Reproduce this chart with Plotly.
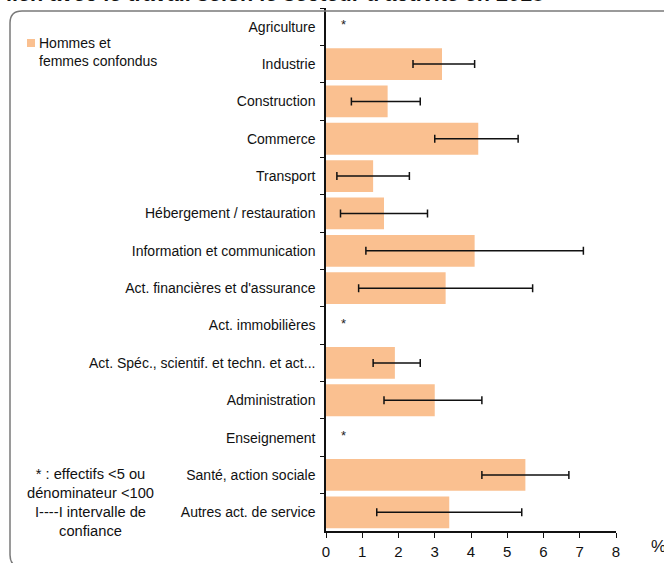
import plotly.graph_objects as go

categories = [
    "Agriculture", "Industrie", "Construction", "Commerce", "Transport",
    "Hébergement / restauration", "Information et communication",
    "Act. financières et d'assurance", "Act. immobilières",
    "Act. Spéc., scientif. et techn. et act...", "Administration",
    "Enseignement", "Santé, action sociale", "Autres act. de service",
]
values = [None, 3.2, 1.7, 4.2, 1.3, 1.6, 4.1, 3.3, None, 1.9, 3.0, None, 5.5, 3.4]
ci_low = [None, 2.4, 0.7, 3.0, 0.3, 0.4, 1.1, 0.9, None, 1.3, 1.6, None, 4.3, 1.4]
ci_high = [None, 4.1, 2.6, 5.3, 2.3, 2.8, 7.1, 5.7, None, 2.6, 4.3, None, 6.7, 5.4]
flags = ["*" if v is None else "" for v in values]
x_ticks = [0, 1, 2, 3, 4, 5, 6, 7, 8]

W, H = 664, 563
L, R, T, B = 326, 48, 8, 32
PW, PH = W - L - R, H - T - B


def px(x):
    return (x - L) / PW


def py(y):
    return (H - B - y) / PH


FONT = "Liberation Sans, Arial, sans-serif"
BAR = "#FAC090"

err_plus = [None if v is None else h - v for v, h in zip(values, ci_high)]
err_minus = [None if v is None else v - l for v, l in zip(values, ci_low)]

fig = go.Figure()
fig.add_trace(go.Bar(
    y=categories, x=values, orientation="h",
    marker=dict(color=BAR, line=dict(width=0)),
    error_x=dict(type="data", symmetric=False, array=err_plus, arrayminus=err_minus,
                 color="#111111", thickness=1.5, width=4),
    name="Hommes et femmes confondus", showlegend=False,
))

annotations = []
for c, f in zip(categories, flags):
    if f:
        annotations.append(dict(x=0.47, y=c, xref="x", yref="y", text=f, showarrow=False,
                                font=dict(family=FONT, size=13, color="#222"), yshift=2))

# legend (custom)
annotations.append(dict(x=px(37), y=py(33), xref="paper", yref="paper",
                        xanchor="left", yanchor="top", align="left", showarrow=False,
                        text="Hommes et<br>femmes confondus",
                        font=dict(family=FONT, size=14, color="#111")))
# note
annotations.append(dict(x=px(90), y=py(464), xref="paper", yref="paper",
                        xanchor="center", yanchor="top", align="center", showarrow=False,
                        text="* : effectifs <5 ou<br>dénominateur <100<br>I----I intervalle de<br>confiance",
                        font=dict(family=FONT, size=14.7, color="#111")))
# percent sign
annotations.append(dict(x=px(658), y=py(546), xref="paper", yref="paper",
                        xanchor="center", yanchor="middle", showarrow=False, text="%",
                        font=dict(family=FONT, size=17, color="#111")))
# cropped title
annotations.append(dict(x=px(4), y=py(8), xref="paper", yref="paper",
                        xanchor="left", yanchor="bottom", showarrow=False,
                        text="<b>lien avec le travail selon le secteur d'activité en 2018</b>",
                        font=dict(family=FONT, size=21.6, color="#111")))

shapes = []
# legend square
shapes.append(dict(type="rect", xref="paper", yref="paper",
                   x0=px(27), x1=px(35), y0=py(47), y1=py(39),
                   fillcolor=BAR, line=dict(width=0)))
# rounded frame
r = 12
bottom = 567
pts = [
    ("M", 700, 11), ("L", 10 + r, 11), ("Q", 10, 11, 10, 11 + r),
    ("L", 10, bottom - r), ("Q", 10, bottom, 10 + r, bottom), ("L", 700, bottom),
]
path = ""
for p in pts:
    if p[0] == "Q":
        path += f"Q{px(p[1])},{py(p[2])} {px(p[3])},{py(p[4])} "
    else:
        path += f"{p[0]}{px(p[1])},{py(p[2])} "
shapes.append(dict(type="path", xref="paper", yref="paper", path=path.strip(),
                   line=dict(color="#7a7a7a", width=1.5)))

fig.update_layout(
    width=W, height=H,
    margin=dict(l=L, r=R, t=T, b=B, pad=0, autoexpand=False),
    paper_bgcolor="white", plot_bgcolor="white",
    bargap=0.15,
    font=dict(family=FONT, size=14, color="#111"),
    xaxis=dict(range=[0, 8], tickvals=x_ticks, ticktext=[str(t) for t in x_ticks],
               automargin=False,
               showgrid=False, zeroline=False, showline=True, linecolor="#111", linewidth=1.5,
               ticks="outside", ticklen=5, tickcolor="#111", tickwidth=1,
               ticklabelstandoff=1,
               tickfont=dict(family=FONT, size=15, color="#111")),
    yaxis=dict(categoryorder="array", categoryarray=categories, autorange="reversed",
               automargin=False,
               showgrid=False, zeroline=False, showline=True, linecolor="#111", linewidth=1.5,
               ticks="outside", tickson="boundaries", ticklen=4, tickcolor="#111",
               ticklabelstandoff=6,
               tickfont=dict(family=FONT, size=14, color="#111")),
    annotations=annotations, shapes=shapes, showlegend=False,
)

fig.write_html("out.html", config={"displayModeBar": False},
               post_script="document.body.style.margin='0';document.body.style.overflow='hidden';")
